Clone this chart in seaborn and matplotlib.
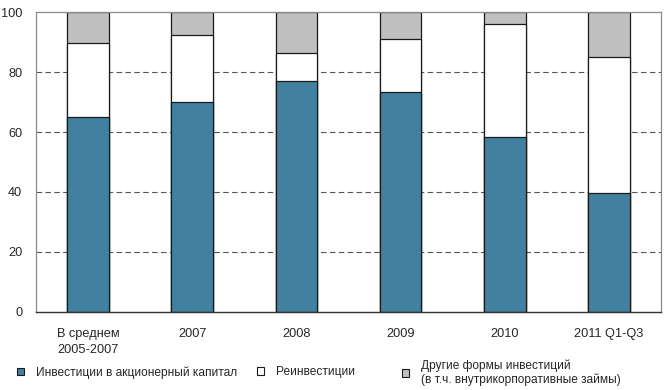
import matplotlib
matplotlib.use('Agg')
import matplotlib.pyplot as plt
import seaborn as sns
import pandas as pd
from matplotlib.patches import Patch

# Данные (доли, %)
categories = ['В среднем\n2005-2007', '2007', '2008', '2009', '2010', '2011 Q1-Q3']
equity = [65, 70, 77, 73.3, 58.4, 39.5]
reinvest = [24.8, 22.4, 9.6, 18.0, 37.6, 45.5]
other = [10.2, 7.6, 13.4, 8.7, 4.0, 15.0]

labels = ['Инвестиции в акционерный капитал', 'Реинвестиции',
          'Другие формы инвестиций\n(в т.ч. внутрикорпоративные займы)']
colors = ['#41809F', '#FFFFFF', '#C0C0C0']

sns.set_style('white')
plt.rcParams['font.family'] = ['Liberation Sans', 'DejaVu Sans']
plt.rcParams['font.size'] = 9.2

df = pd.DataFrame({'cat': categories, 'equity': equity,
                   'reinvest': reinvest, 'other': other})
df['lvl1'] = df['equity']
df['lvl2'] = df['equity'] + df['reinvest']
df['lvl3'] = df['lvl2'] + df['other']

fig = plt.figure(figsize=(6.68, 3.90), dpi=100)
ax = fig.add_axes([0.054, 0.201, 0.9355, 0.767])

# накопленные столбцы: сначала самый высокий
for col, c in zip(['lvl3', 'lvl2', 'lvl1'], colors[::-1]):
    sns.barplot(data=df, x='cat', y=col, color=c, width=0.4, ax=ax,
                edgecolor='#1a1a1a', linewidth=0.9, saturation=1)

ax.set_ylim(0, 100)
ax.set_xlim(-0.5, 5.5)
ax.set_yticks([0, 20, 40, 60, 80, 100])
ax.set_xlabel('')
ax.set_ylabel('')
for y in [20, 40, 60, 80]:
    ax.axhline(y, color='#555555', linestyle=(0, (5, 3)), linewidth=0.8, zorder=0)
ax.tick_params(axis='x', length=0, labelsize=9.2, pad=12)
ax.tick_params(axis='y', length=0, labelsize=9.2, pad=10)
for t in ax.get_xticklabels():
    t.set_linespacing(1.45)
for s in ['top', 'right', 'left']:
    ax.spines[s].set_color('#8a8a8a')
    ax.spines[s].set_linewidth(0.9)
ax.spines['bottom'].set_color('#333333')
ax.spines['bottom'].set_linewidth(1.0)

# легенда: три отдельных элемента
leg_x = [17, 257, 402]
for lab, c, x in zip(labels, colors, leg_x):
    h = Patch(facecolor=c, edgecolor='#1a1a1a', linewidth=0.8)
    fig.legend([h], [lab], loc='center left', bbox_to_anchor=(x / 668, 1 - 372.5 / 390),
               frameon=False, fontsize=8.6, handlelength=0.6, handleheight=0.6,
               handletextpad=0.95, borderpad=0, borderaxespad=0)

fig.savefig('out.png', dpi=100)
